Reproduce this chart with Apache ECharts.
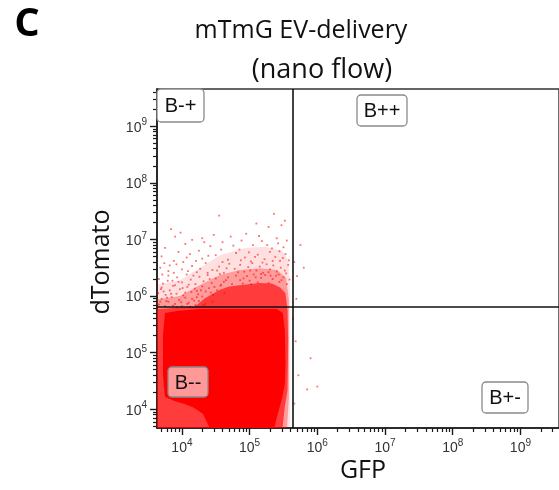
<!DOCTYPE html>
<html><head><meta charset="utf-8">
<script src="https://cdn.jsdelivr.net/npm/echarts@6/dist/echarts.min.js"></script>
<style>html,body{margin:0;padding:0;background:#fff}#c{width:559px;height:490px}</style>
</head><body><div id="c"></div>
<script>
// ---- data (log10 units where noted) ----
const title1 = 'mTmG EV-delivery';
const title2 = '(nano flow)';
const panelLetter = 'C';
const xName = 'GFP';
const yName = 'dTomato';
const xRangeLog = [3.632, 9.57];
const yRangeLog = [3.668, 9.657];
const gfpTicks = [1e4, 1e5, 1e6, 1e7, 1e8, 1e9];
const tomatoTicks = [1e4, 1e5, 1e6, 1e7, 1e8, 1e9];
const minorMultipliers = [2, 3, 4, 5, 6, 7, 8, 9];
const minorDecades = [1e3, 1e4, 1e5, 1e6, 1e7, 1e8, 1e9];
const gateGFP = 4.4e5;
const gateTomato = 6.5e5;
const gateNames = ['B-+', 'B++', 'B+-', 'B--'];

// density outlines of the event cloud (sparse -> solid), [log10 GFP, log10 dTomato]
const cloudL1Log = [[3.60,6.19],[3.97,6.28],[4.26,6.49],[4.56,6.72],[4.93,6.85],[5.22,6.87],[5.47,6.81],[5.57,6.64],[5.60,6.11],[5.60,3.60],[3.60,3.60]];
const cloudL2Log = [[3.60,5.93],[3.97,6.00],[4.26,6.19],[4.56,6.37],[4.85,6.46],[5.15,6.49],[5.41,6.46],[5.54,6.32],[5.58,5.93],[5.58,4.20],[5.55,3.60],[3.60,3.60]];
const cloudL3Log = [[3.60,5.77],[4.19,5.81],[4.34,5.96],[4.56,6.11],[4.70,6.17],[4.85,6.19],[5.15,6.23],[5.33,6.22],[5.45,6.15],[5.53,6.05],[5.56,5.75],[5.57,5.20],[5.56,4.34],[5.52,4.05],[5.48,3.60],[3.60,3.60]];
const cloudCoreLog = [[3.75,5.70],[3.95,5.74],[4.26,5.77],[5.40,5.77],[5.49,5.70],[5.52,5.40],[5.53,4.80],[5.52,4.43],[5.47,4.15],[5.40,3.85],[5.35,3.60],[4.44,3.60],[4.31,3.92],[4.17,4.03],[4.04,4.09],[3.88,4.15],[3.75,4.22],[3.72,4.60],[3.72,5.30]];

// sparse single events, [log10 GFP, log10 dTomato]
const sparseLog = [
[4.55,7.42],[5.36,7.45],[5.52,7.33],
[3.84,7.18],[3.90,7.05],[4.95,7.10],[5.28,7.22],[5.47,7.25],[4.30,7.02],[5.10,7.28],
[4.33,6.95],[4.47,7.08],[4.72,7.05],[4.88,6.98],[5.14,7.06],[5.40,7.02],[5.55,6.98],[3.98,7.12],[4.15,6.99],
[3.75,6.85],[4.05,6.92],[4.42,6.88],[4.60,6.95],[4.85,6.82],[5.05,6.90],[5.18,6.97],[5.33,6.84],[5.42,6.93],[5.50,6.86],[4.25,6.80],[3.95,6.78],
[4.76,6.89],[4.99,6.77],[5.26,6.90],[5.44,6.79],[4.58,6.82],
[3.70,6.70],[3.88,6.62],[4.12,6.74],[4.30,6.66],[4.50,6.72],[4.68,6.64],[4.80,6.76],[4.93,6.68],[5.02,6.61],[5.12,6.73],[5.22,6.65],[5.30,6.78],[5.38,6.69],[5.45,6.62],[5.53,6.74],[4.02,6.60],[4.60,6.60],
[4.39,6.71],[4.21,6.62],[4.07,6.68],[3.82,6.54],[4.87,6.63],[5.08,6.69],[5.19,6.59],[5.34,6.62],[5.49,6.67],[5.58,6.63],
[3.68,6.50],[3.80,6.44],[3.92,6.56],[4.00,6.47],[4.15,6.53],[4.22,6.42],[4.35,6.58],[4.45,6.46],[4.55,6.52],[4.62,6.41],[4.70,6.57],[4.78,6.48],[4.86,6.55],[4.92,6.43],[4.98,6.51],[5.04,6.58],[5.10,6.45],[5.15,6.52],[5.20,6.41],[5.25,6.56],[5.30,6.47],[5.35,6.54],[5.40,6.43],[5.46,6.50],[5.52,6.45],[5.57,6.55],[4.38,6.41],[3.74,6.58],
[4.66,6.49],[4.83,6.42],[5.01,6.45],[5.17,6.39],[5.28,6.42],[5.43,6.38],[5.54,6.40],[4.52,6.45],[4.27,6.48],[4.09,6.44],[3.88,6.41],[3.71,6.38],
[3.66,6.30],[3.72,6.22],[3.80,6.36],[3.86,6.27],[3.93,6.33],[4.00,6.24],[4.07,6.38],[4.13,6.29],[4.20,6.21],[4.26,6.34],[4.32,6.26],[4.38,6.37],[4.44,6.23],[4.50,6.31],[4.56,6.39],[4.62,6.25],[4.68,6.33],[4.74,6.21],[4.80,6.36],[4.86,6.28],[4.90,6.22],[4.96,6.35],[5.00,6.27],[5.06,6.38],[5.12,6.24],[5.17,6.32],[5.23,6.37],[5.28,6.23],[5.34,6.30],[5.39,6.36],[5.44,6.25],[5.50,6.33],[5.55,6.21],[5.59,6.29],[5.02,6.21],[4.58,6.20],[4.10,6.20],
[3.79,6.27],[3.95,6.25],[4.17,6.36],[4.41,6.30],[4.65,6.28],[4.91,6.31],[5.09,6.33],[5.31,6.36],[5.47,6.28],
[3.65,6.05],[3.70,6.15],[3.76,6.02],[3.82,6.10],[3.87,6.18],[3.92,6.04],[3.97,6.12],[4.02,6.01],[4.08,6.16],[4.14,6.07],[4.19,6.13],[4.24,6.03],[4.30,6.17],[4.35,6.08],[4.40,6.14],[4.46,6.02],[4.52,6.10],[4.57,6.18],[4.63,6.05],[3.73,6.08],[3.90,6.19],[4.05,6.06],[4.28,6.10],[4.48,6.16],
[3.69,6.12],[3.84,6.04],[4.01,6.14],[4.22,6.09],[4.43,6.06],
[3.66,5.85],[3.70,5.95],[3.75,5.82],[3.80,5.90],[3.85,5.98],[3.90,5.86],[3.96,5.93],[4.00,5.82],[4.05,5.97],[4.10,5.88],[4.15,5.95],[4.20,5.84],[4.25,5.91],[4.30,5.99],[3.68,5.90],[3.78,5.97],[3.93,5.80],[4.12,5.81],[4.22,5.98],[4.35,5.86],
[3.77,5.91],[3.99,5.89],[4.18,5.92],[4.32,5.84],[4.45,5.90],[3.87,5.83],[4.08,5.86],
[5.66,6.60],[5.70,6.35],[5.75,6.90],[5.80,6.50],[5.68,5.20],[5.72,4.60],[5.66,4.10],[5.85,4.35],[5.90,4.90],[6.00,4.40],[5.64,5.60],[5.69,5.95]
];

// ---- build ----
const P = v => Math.pow(10, v);
const cloudLayers = [cloudL1Log, cloudL2Log, cloudL3Log, cloudCoreLog];
const layerFill = ['rgba(255,0,0,0.12)', 'rgba(255,0,0,0.30)', 'rgba(255,0,0,0.62)', '#ff0000'];
const minorTicks = [];
minorDecades.forEach(d => minorMultipliers.forEach(m => minorTicks.push(d * m)));
const sparseData = sparseLog.map(p => [P(p[0]), P(p[1])]);

const axisColor = '#1a1a1a';
const labelFont = 'Liberation Sans';
const supFmt = v => '{b|10}{s|' + Math.round(Math.log10(v)) + '}';
const richLbl = {
  b: { fontSize: 14, lineHeight: 17, verticalAlign: 'bottom', fontFamily: labelFont, color: '#333' },
  s: { fontSize: 10, lineHeight: 11, verticalAlign: 'top', fontFamily: labelFont, color: '#333' }
};

function mainAxis(range, ticks, pos) {
  return {
    type: 'log', logBase: 10, position: pos, min: P(range[0]), max: P(range[1]),
    axisLine: { show: true, lineStyle: { color: axisColor, width: 1.6 } },
    axisTick: { show: true, inside: false, length: 7, customValues: ticks, lineStyle: { color: axisColor, width: 1.4 } },
    axisLabel: { show: true, margin: 10, customValues: ticks, formatter: supFmt, rich: richLbl },
    splitLine: { show: false }, minorTick: { show: false }
  };
}
function minorAxis(range, pos) {
  return {
    type: 'log', logBase: 10, position: pos, offset: 0, min: P(range[0]), max: P(range[1]),
    axisLine: { show: false },
    axisTick: { show: true, inside: false, length: 4, customValues: minorTicks, lineStyle: { color: axisColor, width: 1.2 } },
    axisLabel: { show: false }, splitLine: { show: false }
  };
}

function box(x, y, w, h, txt, fill) {
  return [
    { type: 'rect', shape: { x: x, y: y, width: w, height: h, r: 4 }, style: { fill: fill, stroke: '#8a8a8a', lineWidth: 1.3 }, z: 100 },
    { type: 'text', x: x + w / 2, y: y + h / 2 + 1, style: { text: txt, fontSize: 20, fontFamily: labelFont, fill: '#111', align: 'center', verticalAlign: 'middle' }, z: 101 }
  ];
}

const chart = echarts.init(document.getElementById('c'), null, { renderer: 'canvas' });
chart.setOption({
  animation: false,
  backgroundColor: '#fff',
  grid: { left: 157, top: 89, right: -2, bottom: 62, show: true, borderColor: '#333', borderWidth: 1.4, backgroundColor: 'transparent', containLabel: false },
  xAxis: [mainAxis(xRangeLog, gfpTicks, 'bottom'), minorAxis(xRangeLog, 'bottom')],
  yAxis: [mainAxis(yRangeLog, tomatoTicks, 'left'), minorAxis(yRangeLog, 'left')],
  series: [
    {
      type: 'custom', xAxisIndex: 0, yAxisIndex: 0, clip: true, silent: true,
      encode: { x: 0, y: 1 },
      data: cloudLayers.map((_, i) => [1e4, 1e4, i]),
      renderItem: function (params, api) {
        const idx = api.value(2);
        const pts = cloudLayers[idx].map(p => api.coord([P(p[0]), P(p[1])]));
        return { type: 'polygon', shape: { points: pts }, style: { fill: layerFill[idx] } };
      }
    },
    {
      type: 'scatter', xAxisIndex: 0, yAxisIndex: 0, data: sparseData, symbol: 'rect', symbolSize: 1.8,
      itemStyle: { color: 'rgba(255,0,0,0.7)' }, silent: true, clip: true,
      markLine: {
        silent: true, symbol: 'none', label: { show: false },
        lineStyle: { color: '#111', width: 1.6, type: 'solid' },
        data: [{ xAxis: gateGFP }, { yAxis: gateTomato }]
      }
    }
  ],
  graphic: [
    { type: 'text', x: 27, y: 25, style: { text: panelLetter, fontSize: 40, fontWeight: 'bold', fontFamily: 'Open Sans', fill: '#000', align: 'center', verticalAlign: 'middle' } },
    { type: 'text', x: 301, y: 31, style: { text: title1, fontSize: 25, fontFamily: 'Open Sans', fill: '#111', align: 'center', verticalAlign: 'middle' } },
    { type: 'text', x: 322, y: 70, style: { text: title2, fontSize: 27, fontFamily: 'Open Sans', fill: '#111', align: 'center', verticalAlign: 'middle' } },
    { type: 'text', x: 102, y: 262, rotation: Math.PI / 2, style: { text: yName, fontSize: 25, fontFamily: 'Open Sans', fill: '#111', align: 'center', verticalAlign: 'middle' } },
    { type: 'text', x: 363, y: 471, style: { text: xName, fontSize: 25, fontFamily: 'Open Sans', fill: '#111', align: 'center', verticalAlign: 'middle' } }
  ].concat(
    box(157, 89, 47, 33, gateNames[0], '#fff'),
    box(357, 95, 50, 31, gateNames[1], '#fff'),
    box(482, 382, 46, 31, gateNames[2], '#fff'),
    box(168, 367, 40, 30, gateNames[3], 'rgba(255,255,255,0.6)')
  )
});
</script></body></html>
